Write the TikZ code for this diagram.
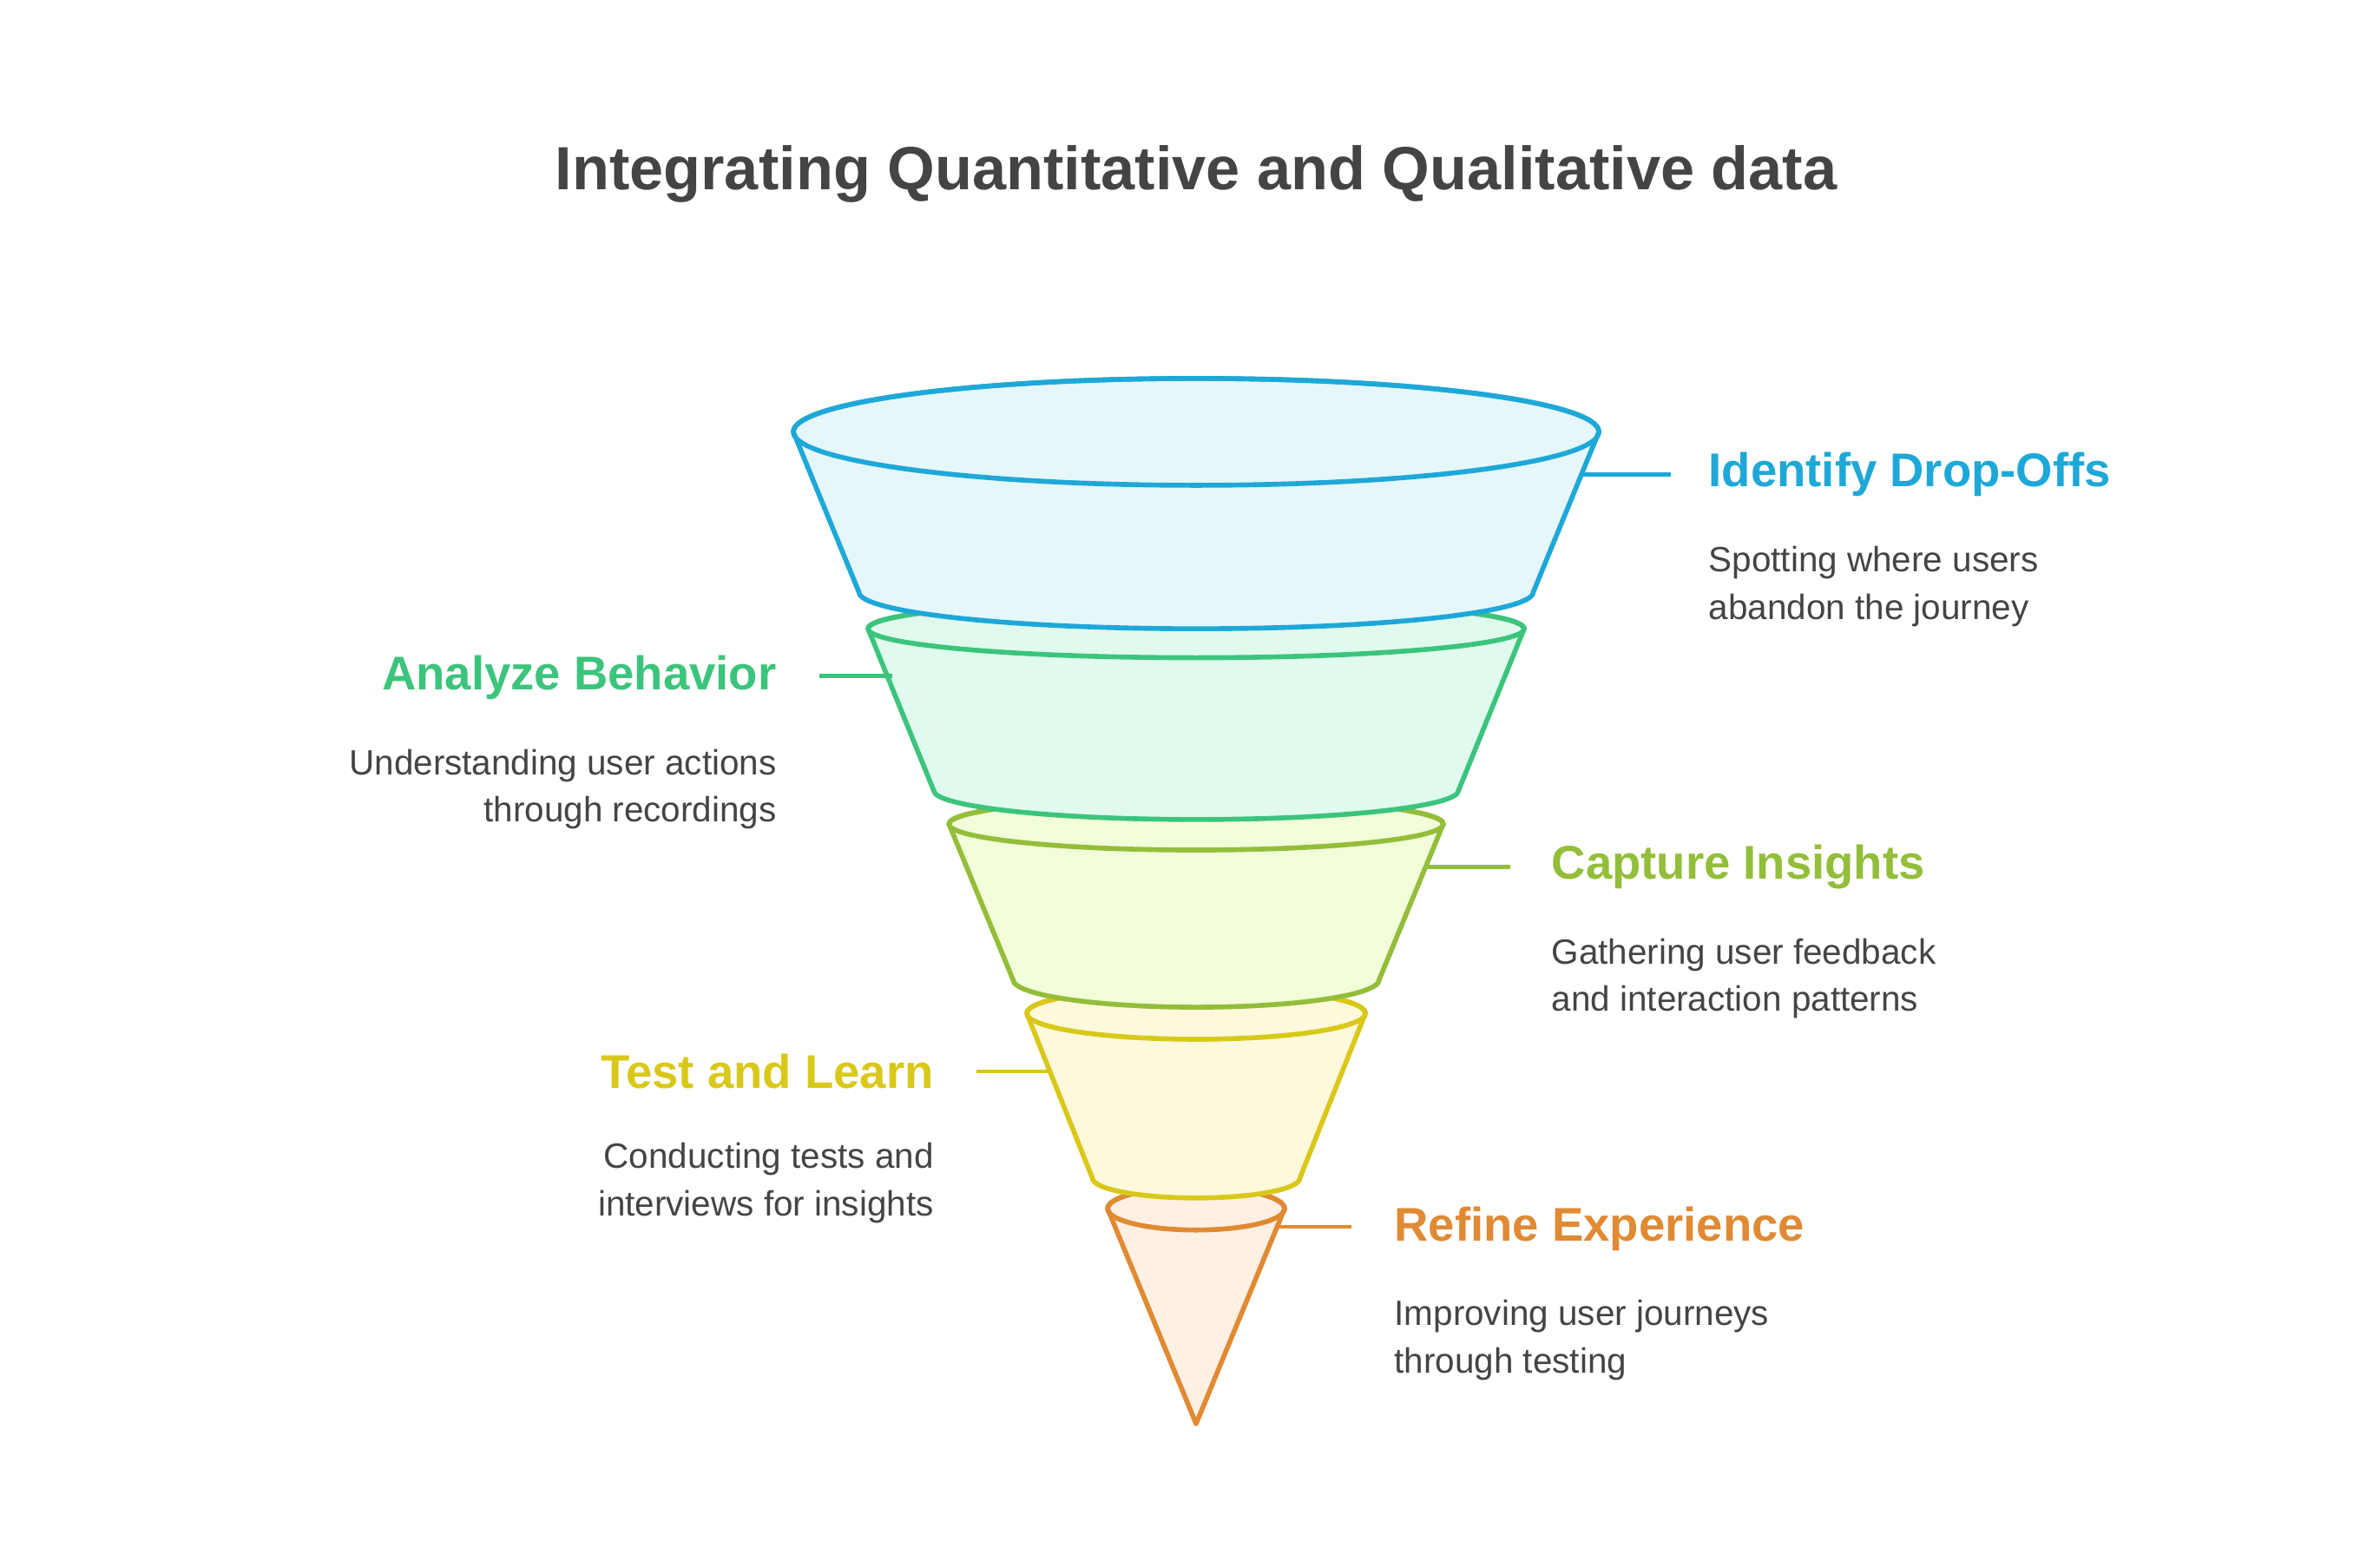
\documentclass[tikz,border=0pt]{standalone}
\usepackage{fontspec}
\setmainfont{Liberation Sans}
\definecolor{txt}{HTML}{444444}
\definecolor{cA}{HTML}{1EA8D8}\definecolor{fA}{HTML}{E6F7FC}
\definecolor{cB}{HTML}{3CC47C}\definecolor{fB}{HTML}{E0FBEE}
\definecolor{cC}{HTML}{93BE3A}\definecolor{fC}{HTML}{F2FDD9}
\definecolor{cD}{HTML}{D9C81A}\definecolor{fD}{HTML}{FEF9DA}
\definecolor{cE}{HTML}{E08A33}\definecolor{fE}{HTML}{FFF0E4}
\newcommand{\fseg}[8]{%
  \filldraw[line width=1.6pt,line join=round,draw=#1,fill=#2]
    (784-#4,#3) -- (784-#7,#6) arc[start angle=180,end angle=0,x radius=#7,y radius=#8]
    -- (784+#4,#3) arc[start angle=0,end angle=-180,x radius=#4,y radius=#5] -- cycle;
  \draw[line width=1.6pt,draw=#1] (784,#3) ellipse[x radius=#4,y radius=#5];}
\tikzset{
  ttl/.style={font=\bfseries\fontsize{20}{24}\selectfont,text=txt},
  lbl/.style={font=\bfseries\fontsize{15.5}{18}\selectfont},
  dsc/.style={font=\fontsize{11.5}{15.5}\selectfont,text=txt,align=left},
  dscr/.style={font=\fontsize{11.5}{15.5}\selectfont,text=txt,align=right},
  cn/.style={line width=1.3pt}}
\begin{document}
\begin{tikzpicture}[x=0.5pt,y=-0.5pt]
\useasboundingbox (0,0) rectangle (1560,1027);
\node[ttl] (title) at (784,114) {Integrating Quantitative and Qualitative data};
% orange
\filldraw[line width=1.6pt,line join=round,draw=cE,fill=fE]
  (726,792) -- (784,933) -- (842,792) arc[start angle=0,end angle=-180,x radius=58,y radius=14] -- cycle;
\draw[line width=1.6pt,draw=cE] (784,792) ellipse[x radius=58,y radius=14];
\fseg{cD}{fD}{664}{111}{17}{772}{68}{13}
\fseg{cC}{fC}{540}{162}{17}{642}{120}{18}
\fseg{cB}{fB}{412}{215}{19}{518}{172}{19}
\fseg{cA}{fA}{283}{264}{35}{388}{221}{24}
% connectors and labels
\coordinate (a1) at (1036,311); \coordinate (a2) at (1095,311);
\draw[cn,cA] (a1) -- (a2);
\node[lbl,text=cA,anchor=west] (la) at (1113,311) {Identify Drop-Offs};
\node[dsc,anchor=north west] (da) at (1113,351) {Spotting where users\\abandon the journey};
\coordinate (b1) at (585,443); \coordinate (b2) at (537,443);
\draw[cn,cB] (b1) -- (b2);
\node[lbl,text=cB,anchor=east] (lb) at (516,444) {Analyze Behavior};
\node[dscr,anchor=north east] (db) at (516,484) {Understanding user actions\\through recordings};
\coordinate (c1) at (935,568); \coordinate (c2) at (990,568);
\draw[cn,cC] (c1) -- (c2);
\node[lbl,text=cC,anchor=west] (lc) at (1010,568) {Capture Insights};
\node[dsc,anchor=north west] (dc) at (1010,608) {Gathering user feedback\\and interaction patterns};
\coordinate (d1) at (688,702); \coordinate (d2) at (640,702);
\draw[cn,cD] (d1) -- (d2);
\node[lbl,text=cD,anchor=east] (ld) at (619,702) {Test and Learn};
\node[dscr,anchor=north east] (dd) at (619,742) {Conducting tests and\\interviews for insights};
\coordinate (e1) at (838,804); \coordinate (e2) at (886,804);
\draw[cn,cE] (e1) -- (e2);
\node[lbl,text=cE,anchor=west] (le) at (907,805) {Refine Experience};
\node[dsc,anchor=north west] (de) at (907,845) {Improving user journeys\\through testing};
\end{tikzpicture}
\end{document}
